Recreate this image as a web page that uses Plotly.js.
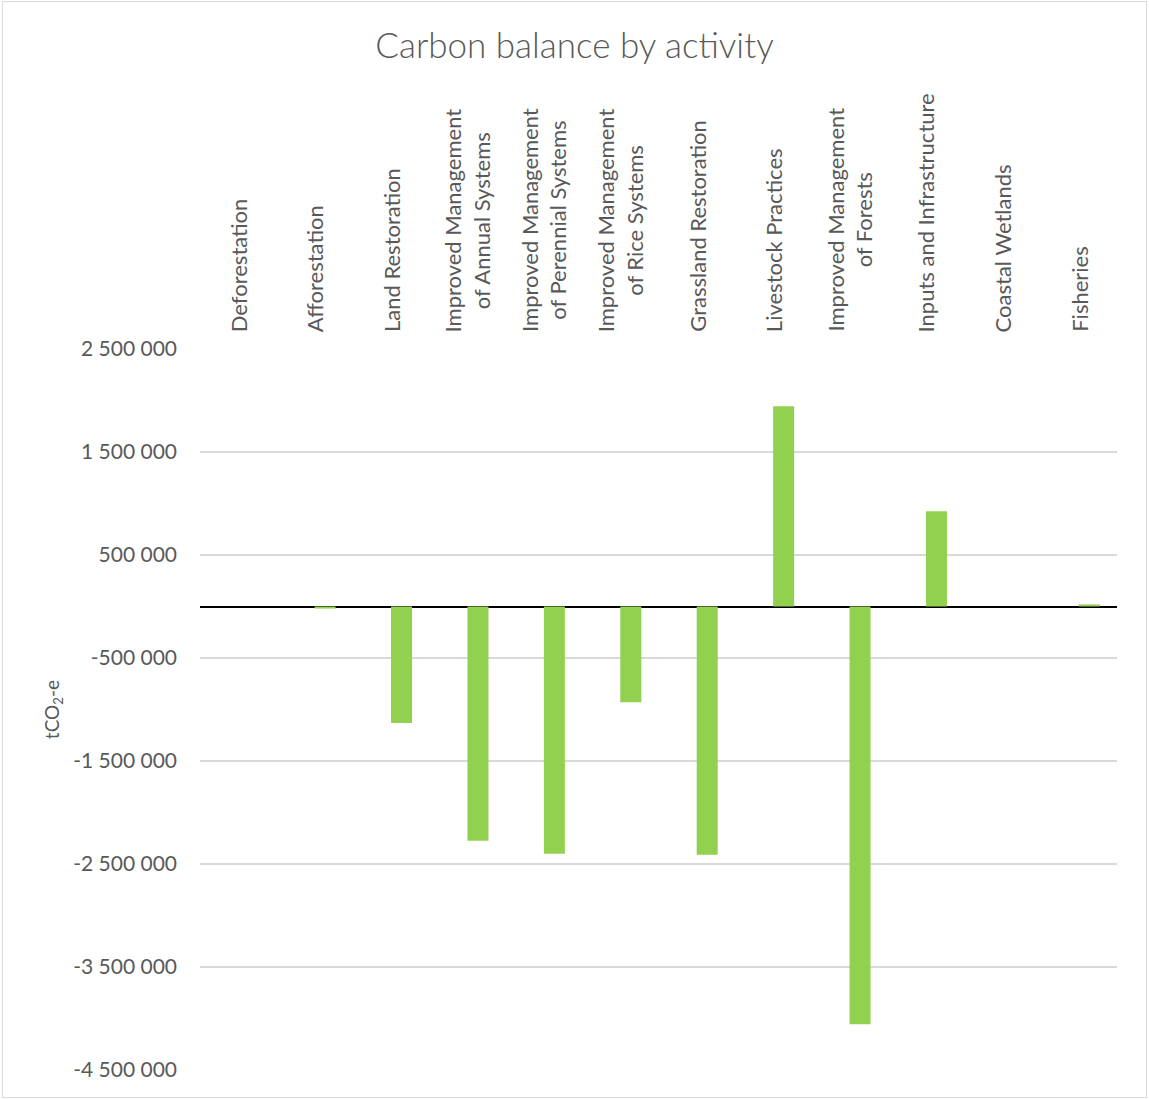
<!DOCTYPE html>
<html>
<head>
<meta charset="utf-8">
<script src="https://cdn.plot.ly/plotly-3.0.1.min.js"></script>
<style>
  html, body { margin: 0; padding: 0; background: #ffffff; }
  #frame { position: absolute; left: 2px; top: 1px; width: 1143px; height: 1095px; border: 1px solid #d9d9d9; }
  #chart { position: absolute; left: -3px; top: -2px; width: 1149px; height: 1100px; }
</style>
</head>
<body>
<div id="frame"><div id="chart"></div></div>
<script>
// Activities and their net carbon balance (tCO2-e)
const activities = [
  "Deforestation",
  "Afforestation",
  "Land Restoration",
  "Improved Management<br>of Annual Systems",
  "Improved Management<br>of Perennial Systems",
  "Improved Management<br>of Rice Systems",
  "Grassland Restoration",
  "Livestock Practices",
  "Improved Management<br>of Forests",
  "Inputs and Infrastructure",
  "Coastal Wetlands",
  "Fisheries"
];
const balance = [
  0,
  -20000,
  -1130000,
  -2275000,
  -2400000,
  -930000,
  -2410000,
  1945000,
  -4055000,
  925000,
  0,
  20000
];
const yTicks = [2500000, 1500000, 500000, -500000, -1500000, -2500000, -3500000, -4500000];

function fmt(v) {
  const s = Math.abs(v).toString().replace(/\B(?=(\d{3})+(?!\d))/g, " ");
  return (v < 0 ? "-" : "") + s;
}

const font = "Lato, 'Open Sans', sans-serif";
const grey = "#595959";

// Bars sit in the right half of each category slot
const trace = {
  type: "bar",
  x: activities,
  y: balance,
  width: 0.275,
  offset: 0,
  marker: { color: "#92d050", line: { width: 0 } },
  hoverinfo: "x+y"
};

// Category labels above the plot, rotated, with centred lines
const labelNotes = activities.map(function (name) {
  return {
    text: name,
    x: name,
    xref: "x",
    y: 1,
    yref: "paper",
    xanchor: "center",
    yanchor: "bottom",
    yshift: 15,
    textangle: -90,
    align: "center",
    showarrow: false,
    font: { family: font, size: 22, color: grey }
  };
});

const layout = {
  width: 1149,
  height: 1100,
  paper_bgcolor: "rgba(0,0,0,0)",
  plot_bgcolor: "#ffffff",
  margin: { l: 200, r: 32, t: 349, b: 30 },
  showlegend: false,
  title: {
    text: "Carbon balance by activity",
    font: { family: font, size: 35, color: grey, weight: 300 },
    x: 0.5, xanchor: "center",
    y: 1 - 46 / 1100, yanchor: "middle"
  },
  annotations: labelNotes,
  xaxis: {
    side: "top",
    type: "category",
    showticklabels: false,
    showgrid: false,
    zeroline: false,
    showline: false,
    ticks: "",
    automargin: false
  },
  yaxis: {
    range: [-4500000, 2500000],
    tickvals: yTicks,
    ticktext: yTicks.map(fmt),
    showgrid: true,
    gridcolor: "#d9d9d9",
    gridwidth: 1.8,
    zeroline: true,
    zerolinecolor: "#000000",
    zerolinewidth: 2,
    showline: false,
    ticks: "",
    ticklabelstandoff: 22,
    tickfont: { family: font, size: 21, color: grey },
    automargin: false,
    title: {
      text: "tCO<sub>2</sub>-e",
      font: { family: font, size: 19, color: grey },
      standoff: 8
    }
  }
};

Plotly.newPlot("chart", [trace], layout, { displayModeBar: false, staticPlot: true });
</script>
</body>
</html>
